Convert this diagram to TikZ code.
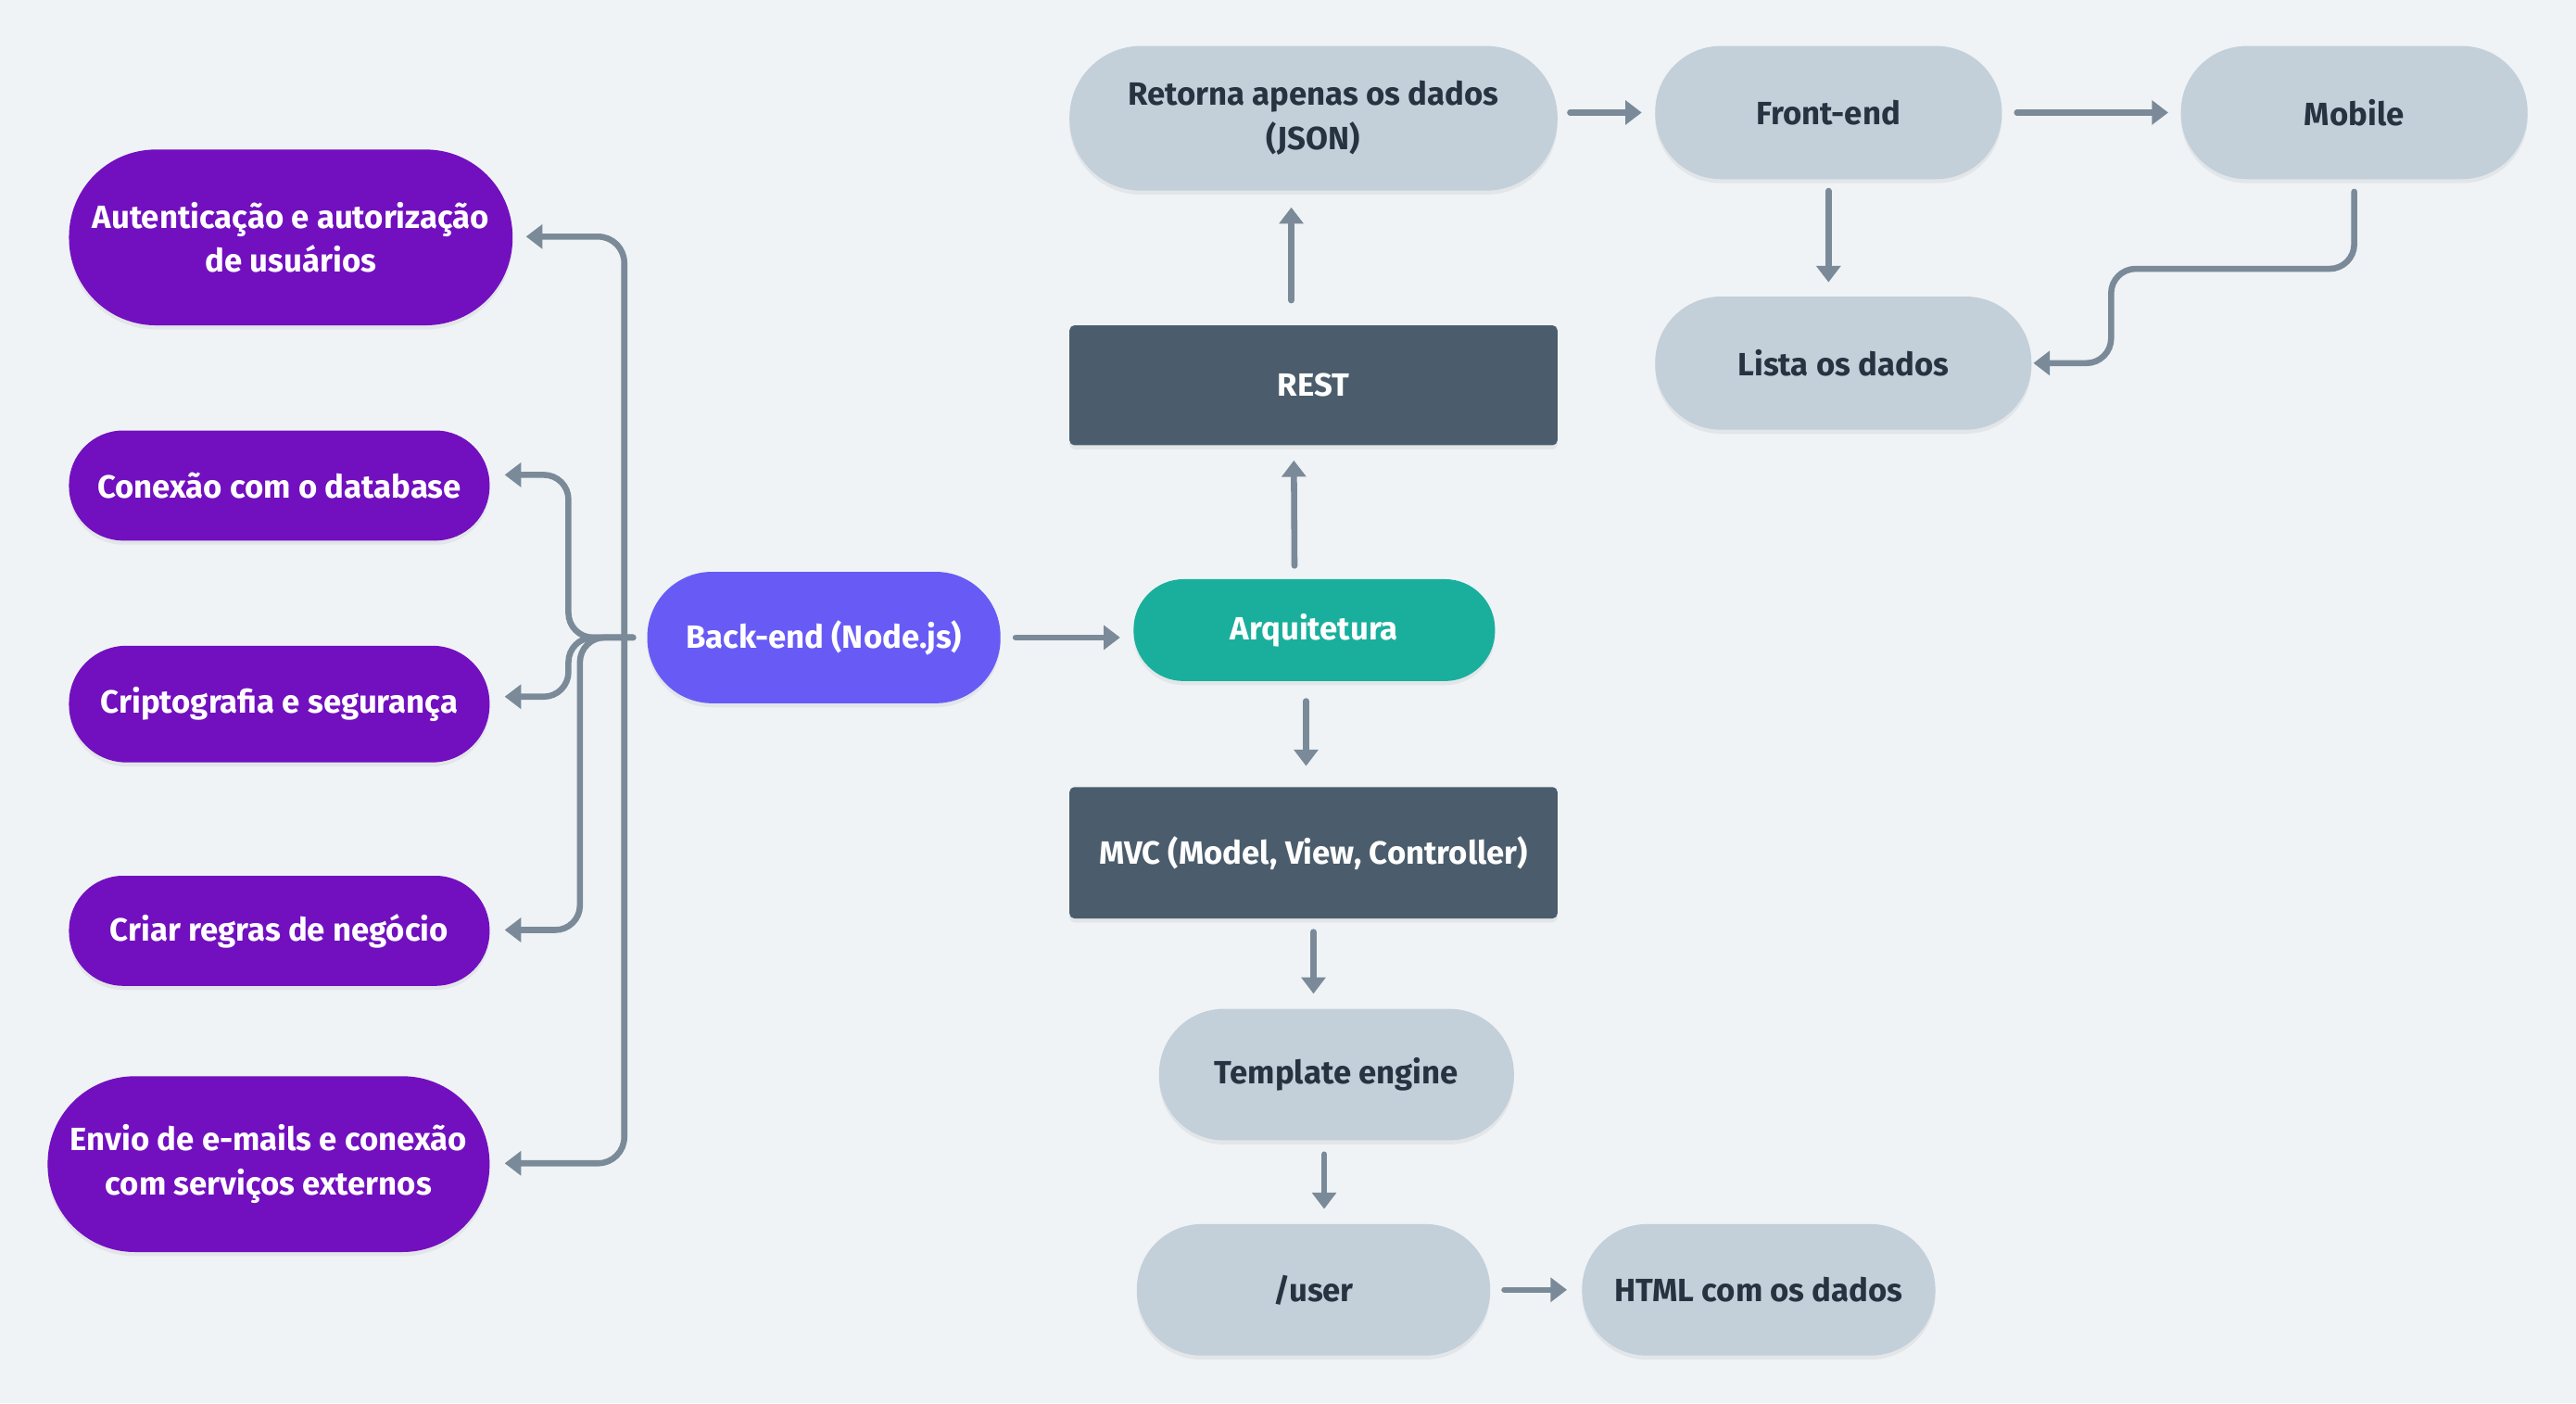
\documentclass[tikz,border=0pt]{standalone}
\usepackage{fontspec}
\setmainfont{Fira Sans}
\usetikzlibrary{arrows.meta,shadows}
\definecolor{bgc}{HTML}{EFF3F6}
\definecolor{purpc}{HTML}{7210BF}
\definecolor{violc}{HTML}{685BF5}
\definecolor{tealc}{HTML}{1AAF9D}
\definecolor{slatec}{HTML}{4B5D6C}
\definecolor{palec}{HTML}{C3CFD9}
\definecolor{inkc}{HTML}{263340}
\definecolor{linec}{HTML}{7A8A98}
\tikzset{
  box/.style={inner sep=0pt, align=center, font=\bfseries\fontsize{19.6}{27}\selectfont,
    drop shadow={shadow xshift=0pt, shadow yshift=-2.5pt, opacity=0.05, fill=black}},
  sz/.style n args={2}{minimum width=#1pt, minimum height=#2pt},
  pillp/.style={box, fill=purpc, text=white},
  pillg/.style={box, fill=palec, text=inkc},
  rectd/.style={box, fill=slatec, text=white, rounded corners=3pt},
  conn/.style={draw=linec, line width=3.7pt, line cap=round,
    -{Triangle[length=10pt,width=14.5pt]}},
  plain/.style={draw=linec, line width=3.7pt, line cap=round},
}
\begin{document}
\begin{tikzpicture}[x=1pt,y=-1pt]
\fill[bgc] (0,0) rectangle (1568,854);
\useasboundingbox (0,0) rectangle (1568,854);

% left purple nodes
\node[pillp, sz={270}{107}, rounded corners=53pt] (aut) at (177,144.5) {Autenticação e autorização\\de usuários};
\node[pillp, sz={256}{67}, rounded corners=33pt] (con) at (170,295.5) {Conexão com o database};
\node[pillp, sz={256}{71}, rounded corners=35pt] (cri) at (170,428.5) {Criptografia e segurança};
\node[pillp, sz={256}{67}, rounded corners=33pt] (cria) at (170,566.5) {Criar regras de negócio};
\node[pillp, sz={269}{107}, rounded corners=53pt] (env) at (163.5,708.5) {Envio de e-mails e conexão\\com serviços externos};

% center
\node[box, fill=violc, text=white, sz={215}{80}, rounded corners=39.5pt] (back) at (501.5,388) {Back-end (Node.js)};
\node[box, fill=tealc, text=white, sz={220}{62}, rounded corners=30.5pt] (arq) at (800,383.5) {Arquitetura};
\node[rectd, sz={297}{73}] (rest) at (799.5,234.5) {REST};
\node[pillg, sz={297}{88}, rounded corners=43.5pt] (ret) at (799.5,72) {Retorna apenas os dados\\(JSON)};
\node[pillg, sz={211}{81}, rounded corners=40pt] (front) at (1113,68.5) {Front-end};
\node[pillg, sz={211}{81}, rounded corners=40pt] (mob) at (1433,68.5) {Mobile};
\node[pillg, sz={229}{81}, rounded corners=40pt] (lista) at (1122,221) {Lista os dados};
\node[rectd, sz={297}{80}] (mvc) at (799.5,519) {MVC (Model, View, Controller)};
\node[pillg, sz={216}{80}, rounded corners=39.5pt] (tpl) at (813.5,654) {Template engine};
\node[pillg, sz={215}{80}, rounded corners=39.5pt] (user) at (799.5,785) {/user};
\node[pillg, sz={215}{80}, rounded corners=39.5pt] (html) at (1070.5,785) {HTML com os dados};

% bus from back-end
\coordinate (bus) at ([xshift=-8.5pt]back.west);
\coordinate (busv) at (380,388);
\draw[plain] (bus) -- (busv);
\draw[conn, rounded corners=16pt, shorten >=8pt] (busv) -- (380,144) -- (aut.east |- 0,144);
\draw[conn, rounded corners=16pt, shorten >=9pt] (busv) -- (380,708) -- (env.east |- 0,708);
\draw[conn, rounded corners=15pt, shorten >=9pt] (bus) -| (346,289) -- (con.east |- 0,289);
\draw[conn, rounded corners=15pt, shorten >=9pt] (bus) -| (346,424) -- (cri.east |- 0,424);
\draw[conn, rounded corners=15pt, shorten >=9pt] (bus) -| (353,566) -- (cria.east |- 0,566);

% main flow
\draw[conn, shorten <=9pt, shorten >=8pt] (back.east) -- (arq.west |- back.east);
\draw[conn, shorten <=8pt, shorten >=9pt] ([xshift=-12pt]arq.north) -- ([xshift=-12pt]rest.south);
\draw[conn, shorten <=15pt, shorten >=10pt] ([xshift=-13.5pt]rest.north) -- ([xshift=-13.5pt]ret.south);
\draw[conn, shorten <=7.5pt, shorten >=8pt] (ret.east |- front.east) -- (front.west);
\draw[conn, shorten <=9pt, shorten >=7.5pt] (front.east) -- (mob.west);
\draw[conn, shorten <=7pt, shorten >=8.5pt] (front.south) -- (front.south |- lista.north);
\draw[conn, rounded corners=15pt, shorten <=7.5pt, shorten >=1pt] (mob.south) -- (1433,163.6) -- (1285,163.6) -- (1285,221) -- (lista.east);
\draw[conn, shorten <=12pt, shorten >=12.6pt] ([xshift=-5pt]arq.south) -- ([xshift=-5pt]arq.south |- mvc.north);
\draw[conn, shorten <=8pt, shorten >=9pt] (mvc.south) -- (mvc.south |- tpl.north);
\draw[conn, shorten <=8.4pt, shorten >=9pt] ([xshift=6.5pt]user.north |- tpl.south) -- ([xshift=6.5pt]user.north);
\draw[conn, shorten <=8.5pt, shorten >=9pt] (user.east) -- (html.west);
\end{tikzpicture}
\end{document}
